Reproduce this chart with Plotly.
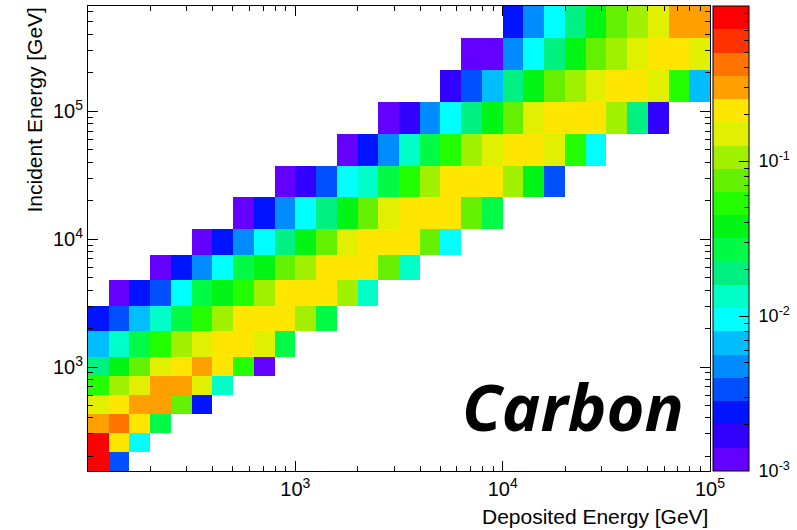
import numpy as np
import plotly.graph_objects as go

# ---- binning (log10 of GeV) ----
X_EDGES_LOG = [2.0, 2.1, 2.2, 2.3, 2.4, 2.5, 2.6, 2.7, 2.8, 2.9, 3.0, 3.1, 3.2, 3.3, 3.4,
               3.5, 3.6, 3.7, 3.8, 3.9, 4.0, 4.1, 4.2, 4.3, 4.4, 4.5, 4.6, 4.7, 4.8, 4.9, 5.0]
Y_EDGES_LOG = [2.1875, 2.334, 2.482, 2.633, 2.781, 2.93, 3.08, 3.281, 3.479, 3.68, 3.875,
               4.078, 4.327, 4.576, 4.825, 5.074, 5.324, 5.573, 5.823]

# ---- cell contents: (first filled column, values) per incident-energy row, bottom to top ----
ROWS = [
    (0, [0.84, 0.0034]),
    (0, [0.84, 0.21, 0.0094]),
    (0, [0.30, 0.42, 0.21, 0.027]),
    (0, [0.15, 0.21, 0.30, 0.30, 0.075, 0.0024]),
    (0, [0.053, 0.11, 0.15, 0.30, 0.30, 0.15, 0.013]),
    (0, [0.019, 0.038, 0.075, 0.15, 0.21, 0.30, 0.21, 0.053, 0.0012]),
    (0, [0.0067, 0.013, 0.027, 0.053, 0.11, 0.15, 0.21, 0.21, 0.15, 0.027]),
    (0, [0.0024, 0.0034, 0.0067, 0.013, 0.027, 0.053, 0.11, 0.21, 0.21, 0.21, 0.11, 0.027]),
    (1, [0.0012, 0.0024, 0.0034, 0.0094, 0.027, 0.038, 0.053, 0.11, 0.21, 0.21, 0.21, 0.11, 0.013]),
    (3, [0.0012, 0.0024, 0.0047, 0.0094, 0.027, 0.038, 0.075, 0.11, 0.21, 0.21, 0.21, 0.075, 0.013]),
    (5, [0.0012, 0.0024, 0.0047, 0.0094, 0.019, 0.038, 0.075, 0.15, 0.21, 0.21, 0.21, 0.075, 0.0094]),
    (7, [0.0012, 0.0024, 0.0047, 0.0094, 0.019, 0.038, 0.075, 0.15, 0.21, 0.21, 0.21, 0.075, 0.027]),
    (9, [0.0012, 0.0017, 0.0034, 0.0094, 0.013, 0.027, 0.053, 0.11, 0.21, 0.21, 0.21, 0.11, 0.038, 0.0034]),
    (12, [0.0012, 0.0024, 0.0047, 0.013, 0.027, 0.053, 0.11, 0.15, 0.21, 0.21, 0.15, 0.053, 0.0094]),
    (14, [0.0012, 0.0017, 0.0047, 0.0094, 0.019, 0.038, 0.075, 0.15, 0.21, 0.21, 0.21, 0.11, 0.019, 0.0017]),
    (17, [0.0017, 0.0034, 0.0067, 0.019, 0.038, 0.075, 0.11, 0.15, 0.21, 0.21, 0.15, 0.053, 0.0067]),
    (18, [0.0012, 0.0012, 0.0047, 0.0094, 0.019, 0.038, 0.075, 0.11, 0.15, 0.21, 0.21, 0.15]),
    (20, [0.0024, 0.0047, 0.0094, 0.019, 0.038, 0.075, 0.11, 0.15, 0.30, 0.30]),
]

# ---- palette: 20 discrete levels from 1e-3 (bottom) to 1 (top) ----
PALETTE = [
    "rgb(100,0,255)", "rgb(50,0,255)", "rgb(0,20,255)", "rgb(0,80,255)", "rgb(0,140,255)",
    "rgb(0,190,255)", "rgb(0,255,255)", "rgb(0,255,200)", "rgb(0,240,130)", "rgb(0,250,70)",
    "rgb(0,245,20)", "rgb(35,255,0)", "rgb(100,240,0)", "rgb(160,240,0)", "rgb(225,240,0)",
    "rgb(255,230,0)", "rgb(255,160,0)", "rgb(255,115,0)", "rgb(255,50,0)", "rgb(255,0,0)",
]
Z_MIN_LOG, Z_MAX_LOG = -3, 0

X_TICKS = [1e3, 1e4, 1e5]
X_TICKTEXT = ["10<sup>3</sup>", "10<sup>4</sup>", "10<sup>5</sup>"]
Y_TICKS = [1e3, 1e4, 1e5]
Y_TICKTEXT = ["10<sup>3</sup>", "10<sup>4</sup>", "10<sup>5</sup>"]
CB_MAJOR = [-3, -2, -1]
CB_MAJOR_TEXT = ["\u00a010<sup>-3</sup>", "\u00a010<sup>-2</sup>", "\u00a010<sup>-1</sup>"]

# ---- build grid ----
ncol = len(X_EDGES_LOG) - 1
z = []
for start, vals in ROWS:
    row = [None] * ncol
    for i, v in enumerate(vals):
        row[start + i] = np.log10(v)
    z.append(row)

n = len(PALETTE)
colorscale = []
for k, c in enumerate(PALETTE):
    colorscale.append([k / n, c])
    colorscale.append([(k + 1) / n, c])

x_edges = [10 ** v for v in X_EDGES_LOG]
y_edges = [10 ** v for v in Y_EDGES_LOG]

# minor tick positions for colorbar
cb_minor = []
for d in range(Z_MIN_LOG, Z_MAX_LOG):
    for m in range(2, 10):
        cb_minor.append(d + np.log10(m))

FONT = "Liberation Sans, Arial, Helvetica, sans-serif"

cb_common = dict(thickness=36, thicknessmode="pixels", len=1, lenmode="fraction",
                 x=1.005, xanchor="left", xpad=0, y=0.5, yanchor="middle", ypad=0)

fig = go.Figure()
fig.add_trace(go.Heatmap(
    x=x_edges, y=y_edges, z=z, zmin=Z_MIN_LOG, zmax=Z_MAX_LOG,
    colorscale=colorscale, hoverongaps=False,
    colorbar=dict(**cb_common, outlinewidth=1, outlinecolor="black",
                  tickmode="array", tickvals=CB_MAJOR, ticktext=CB_MAJOR_TEXT,
                  ticks="inside", ticklen=10, tickwidth=1, tickcolor="black",
                  tickfont=dict(family=FONT, size=18, color="black")),
))
# transparent overlay colorbar carrying the minor ticks
fig.add_trace(go.Scatter(
    x=[None], y=[None], mode="markers", showlegend=False, hoverinfo="skip",
    marker=dict(color=[Z_MIN_LOG], cmin=Z_MIN_LOG, cmax=Z_MAX_LOG,
                colorscale=[[0, "rgba(0,0,0,0)"], [1, "rgba(0,0,0,0)"]],
                showscale=True,
                colorbar=dict(**cb_common, outlinewidth=0,
                              tickmode="array", tickvals=cb_minor,
                              ticktext=[""] * len(cb_minor),
                              ticks="inside", ticklen=5, tickwidth=1, tickcolor="black")),
))

axis_common = dict(
    type="log", showgrid=False, zeroline=False,
    showline=True, linecolor="black", linewidth=1, mirror="ticks",
    ticks="inside", ticklen=10, tickwidth=1, tickcolor="black",
    tickmode="array",
    tickfont=dict(family=FONT, size=20, color="black"),
    minor=dict(ticks="inside", ticklen=5, tickwidth=1, tickcolor="black",
               dtick="D1", showgrid=False),
)

fig.update_layout(
    width=797, height=530,
    margin=dict(l=88, r=87, t=6, b=59, autoexpand=False),
    paper_bgcolor="white", plot_bgcolor="white",
    font=dict(family=FONT, color="black"),
    xaxis=dict(**axis_common, range=[X_EDGES_LOG[0], X_EDGES_LOG[-1]],
               tickvals=X_TICKS, ticktext=X_TICKTEXT),
    yaxis=dict(**axis_common, range=[Y_EDGES_LOG[0], Y_EDGES_LOG[-1]],
               tickvals=Y_TICKS, ticktext=Y_TICKTEXT),
    annotations=[
        dict(text="Deposited Energy [GeV]", xref="paper", yref="paper",
             x=1.0, y=0, xanchor="right", yanchor="top", yshift=-32,
             showarrow=False, font=dict(family=FONT, size=21, color="black")),
        dict(text="Incident Energy [GeV]", xref="paper", yref="paper",
             x=0, y=1, xanchor="center", yanchor="top", xshift=-54, textangle=-90,
             showarrow=False, font=dict(family=FONT, size=21, color="black")),
        dict(text="<b><i>Carbon</i></b>", xref="paper", yref="paper",
             x=0.779, y=0.14, xanchor="center", yanchor="middle",
             showarrow=False, font=dict(family="Open Sans", size=65, color="black")),
    ],
)

fig.write_html("out.html")
